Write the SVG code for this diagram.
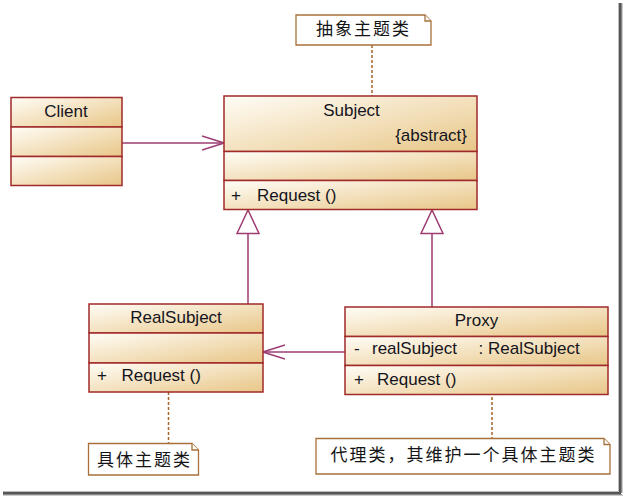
<svg xmlns="http://www.w3.org/2000/svg" width="623" height="496" viewBox="0 0 623 496">
<defs>
<linearGradient id="g" x1="0" y1="0" x2="1" y2="1">
<stop offset="0" stop-color="#fffdf7"/>
<stop offset="1" stop-color="#e8c687"/>
</linearGradient>
<marker id="open" viewBox="0 0 24 16" refX="22" refY="8" markerWidth="24" markerHeight="16" markerUnits="userSpaceOnUse" orient="auto">
<path d="M0,1 L22,8 L0,15" fill="none" stroke="#9c3c72" stroke-width="1.5"/>
</marker>
<marker id="tri" viewBox="0 0 26 26" refX="24.5" refY="12" markerWidth="26" markerHeight="26" markerUnits="userSpaceOnUse" orient="auto">
<path d="M1,1 L24.5,12 L1,23 Z" fill="#fff" stroke="#9c3c72" stroke-width="1.5"/>
</marker>
</defs>
<style>
.c{fill:url(#g);stroke:#a02a2a;stroke-width:1.5}
.t{font-family:"Liberation Sans",Arial,sans-serif;font-size:17px;fill:#141420}
.m{text-anchor:middle}
.e{text-anchor:end}
.con{fill:none;stroke:#9c3c72;stroke-width:1.5}
.n{fill:#fff;stroke:#a8703a;stroke-width:1.3}
.d{fill:none;stroke:#a8652a;stroke-width:1.5;stroke-dasharray:3,2}
.z{font-family:"Noto Sans CJK SC","Noto Sans",sans-serif;font-size:17px;fill:#141414;letter-spacing:2px}
</style>
<rect width="623" height="496" fill="#fff"/>
<g id="frame">
<rect x="618" y="3" width="1" height="490" fill="#bbb"/>
<rect x="619" y="3" width="2" height="490" fill="#555"/>
<rect x="621" y="3" width="1" height="490" fill="#888"/>
<rect x="622" y="3" width="1" height="490" fill="#ccc"/>
<rect x="3" y="491" width="616" height="1" fill="#bbb"/>
<rect x="3" y="492" width="618" height="2" fill="#555"/>
<rect x="3" y="494" width="619" height="1" fill="#888"/>
<rect x="3" y="495" width="620" height="1" fill="#ccc"/>
</g>
<g id="connectors">
<line class="con" x1="122" y1="143" x2="224" y2="143" marker-end="url(#open)"/>
<line class="con" x1="345" y1="352" x2="263" y2="352" marker-end="url(#open)"/>
<line class="con" x1="248" y1="304" x2="248" y2="210" marker-end="url(#tri)"/>
<line class="con" x1="432" y1="307" x2="432" y2="210" marker-end="url(#tri)"/>
<line class="d" x1="372" y1="45" x2="372" y2="96"/>
<line class="d" x1="168.5" y1="392" x2="168.5" y2="443"/>
<line class="d" x1="492" y1="397" x2="492" y2="438"/>
</g>
<g id="client">
<rect class="c" x="11" y="97.5" width="111" height="29.5"/>
<rect class="c" x="11" y="127" width="111" height="29.5"/>
<rect class="c" x="11" y="156.5" width="111" height="29"/>
<text class="t m" x="66" y="117">Client</text>
</g>
<g id="subject">
<rect class="c" x="224" y="96" width="253" height="55.5"/>
<rect class="c" x="224" y="151.5" width="253" height="29"/>
<rect class="c" x="224" y="180.5" width="253" height="29"/>
<text class="t m" x="351.5" y="116">Subject</text>
<text class="t e" x="467" y="141">{abstract}</text>
<text class="t" x="231" y="201">+</text>
<text class="t" x="257" y="201">Request ()</text>
</g>
<g id="realsubject">
<rect class="c" x="89" y="304" width="174" height="29"/>
<rect class="c" x="89" y="333" width="174" height="30"/>
<rect class="c" x="89" y="363" width="174" height="29"/>
<text class="t m" x="176" y="323">RealSubject</text>
<text class="t" x="97" y="381">+</text>
<text class="t" x="121.5" y="381">Request ()</text>
</g>
<g id="proxy">
<rect class="c" x="345" y="307" width="263" height="29.5"/>
<rect class="c" x="345" y="336.5" width="263" height="29"/>
<rect class="c" x="345" y="365.5" width="263" height="29"/>
<text class="t m" x="476.5" y="326">Proxy</text>
<text class="t" x="354" y="354">-</text>
<text class="t" x="372" y="354">realSubject</text>
<text class="t" x="478.5" y="354">: RealSubject</text>
<text class="t" x="354" y="385">+</text>
<text class="t" x="377" y="385">Request ()</text>
</g>
<g id="note-abstract">
<path class="n" d="M296,15 H425 L431,21 V45 H296 Z"/>
<path class="n" d="M425,15 V21 H431" fill="none"/>
<text class="z m" x="363.5" y="34.5">抽象主题类</text>
</g>
<g id="note-real">
<path class="n" d="M88.5,443.5 H192 L198.5,450 V475 H88.5 Z"/>
<path class="n" d="M192,443.5 V450 H198.5" fill="none"/>
<text class="z m" x="144.5" y="466">具体主题类</text>
</g>
<g id="note-proxy">
<path class="n" d="M316,438.5 H604 L610,444.5 V474 H316 Z"/>
<path class="n" d="M604,438.5 V444.5 H610" fill="none"/>
<text class="z m" x="463.5" y="460.5">代理类，其维护一个具体主题类</text>
</g>
</svg>
